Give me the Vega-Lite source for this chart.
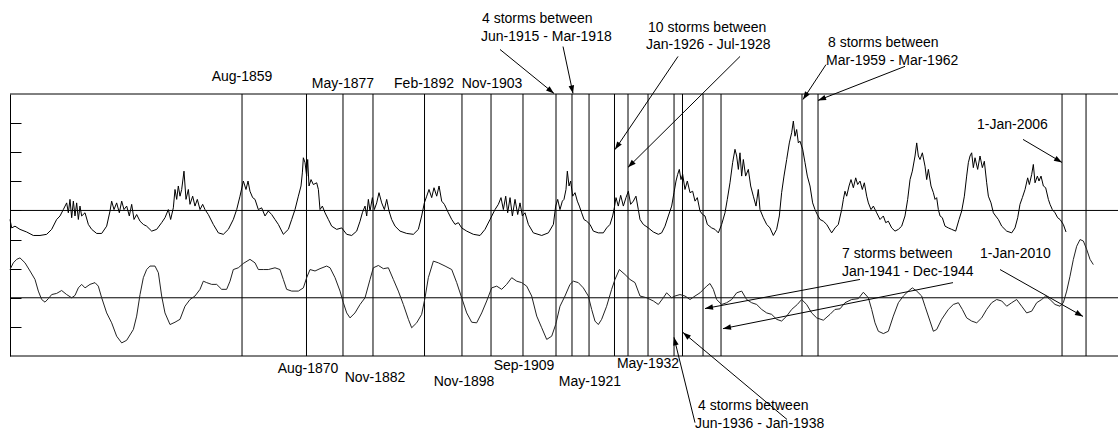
{
  "$schema": "https://vega.github.io/schema/vega-lite/v6.json",
  "width": 1108,
  "height": 262,
  "autosize": {"type": "none"},
  "padding": {"left": 10, "top": 94, "right": 0, "bottom": 74},
  "background": "white",
  "view": {"stroke": null},
  "config": {"font": "Liberation Sans"},
  "datasets": {
    "sun": [
      {"t":1818.2,"v":-0.31},{"t":1818.5,"v":-0.6},{"t":1819.09,"v":-0.54},{"t":1819.98,"v":-0.65},{"t":1821.17,"v":-0.74},{"t":1822.36,"v":-0.86},{"t":1823.55,"v":-0.86},{"t":1824.74,"v":-0.82},{"t":1825.63,"v":-0.65},{"t":1826.52,"v":-0.31},{"t":1827.12,"v":-0.19},{"t":1827.71,"v":0.03},{"t":1828.31,"v":0.26},{"t":1828.6,"v":-0.08},{"t":1828.9,"v":0.38},{"t":1829.2,"v":-0.25},{"t":1829.5,"v":0.32},{"t":1829.79,"v":-0.19},{"t":1830.09,"v":0.26},{"t":1830.39,"v":-0.31},{"t":1830.68,"v":0.15},{"t":1830.98,"v":-0.19},{"t":1831.58,"v":-0.08},{"t":1832.17,"v":-0.48},{"t":1832.77,"v":-0.65},{"t":1833.66,"v":-0.79},{"t":1834.55,"v":-0.79},{"t":1835.44,"v":-0.54},{"t":1836.04,"v":-0.02},{"t":1836.33,"v":0.32},{"t":1836.75,"v":0.03},{"t":1837.22,"v":0.26},{"t":1837.7,"v":-0.08},{"t":1838.12,"v":0.32},{"t":1838.53,"v":0.03},{"t":1839.01,"v":0.15},{"t":1839.48,"v":-0.19},{"t":1839.9,"v":0.21},{"t":1840.32,"v":-0.31},{"t":1840.79,"v":-0.14},{"t":1841.39,"v":-0.37},{"t":1841.98,"v":-0.48},{"t":1842.57,"v":-0.54},{"t":1843.47,"v":-0.71},{"t":1844.36,"v":-0.65},{"t":1845.25,"v":-0.42},{"t":1845.84,"v":-0.25},{"t":1846.44,"v":0.03},{"t":1846.85,"v":-0.31},{"t":1847.33,"v":0.09},{"t":1847.63,"v":0.72},{"t":1847.93,"v":0.38},{"t":1848.22,"v":0.84},{"t":1848.52,"v":0.49},{"t":1848.82,"v":0.72},{"t":1849.23,"v":1.35},{"t":1849.59,"v":0.38},{"t":1850.01,"v":0.72},{"t":1850.3,"v":0.21},{"t":1850.78,"v":0.49},{"t":1851.19,"v":0.15},{"t":1851.61,"v":0.38},{"t":1852.09,"v":0.03},{"t":1852.56,"v":0.21},{"t":1852.98,"v":0.03},{"t":1853.57,"v":-0.14},{"t":1854.46,"v":-0.48},{"t":1855.36,"v":-0.77},{"t":1856.25,"v":-0.82},{"t":1857.14,"v":-0.65},{"t":1858.03,"v":-0.31},{"t":1858.63,"v":0.03},{"t":1859.22,"v":0.49},{"t":1859.82,"v":1.01},{"t":1860.29,"v":0.72},{"t":1860.65,"v":1.01},{"t":1861.0,"v":0.66},{"t":1861.48,"v":0.44},{"t":1861.9,"v":0.38},{"t":1862.49,"v":0.03},{"t":1863.08,"v":0.09},{"t":1863.68,"v":-0.19},{"t":1864.27,"v":-0.02},{"t":1864.87,"v":-0.14},{"t":1865.46,"v":-0.31},{"t":1866.06,"v":-0.48},{"t":1866.95,"v":-0.82},
      {"t":1867.84,"v":-0.65},{"t":1868.44,"v":-0.31},{"t":1869.03,"v":0.03},{"t":1869.63,"v":0.49},{"t":1870.1,"v":0.84},{"t":1870.34,"v":1.29},{"t":1870.52,"v":1.81},{"t":1870.82,"v":1.64},{"t":1871.11,"v":1.18},{"t":1871.29,"v":1.75},{"t":1871.53,"v":0.84},{"t":1871.89,"v":1.06},{"t":1872.3,"v":0.89},{"t":1872.9,"v":0.95},{"t":1873.2,"v":0.72},{"t":1873.49,"v":0.03},{"t":1873.91,"v":0.15},{"t":1874.38,"v":-0.08},{"t":1874.98,"v":-0.31},{"t":1875.57,"v":-0.54},{"t":1876.46,"v":-0.65},{"t":1877.36,"v":-0.6},{"t":1878.25,"v":-0.82},{"t":1879.14,"v":-0.86},{"t":1880.03,"v":-0.71},{"t":1880.63,"v":-0.37},{"t":1881.04,"v":-0.08},{"t":1881.52,"v":0.15},{"t":1881.82,"v":-0.19},{"t":1882.11,"v":0.38},{"t":1882.41,"v":-0.02},{"t":1882.83,"v":0.44},{"t":1883.18,"v":0.03},{"t":1883.6,"v":0.26},{"t":1884.01,"v":0.61},{"t":1884.49,"v":0.26},{"t":1884.97,"v":0.03},{"t":1885.38,"v":0.38},{"t":1885.8,"v":-0.02},{"t":1886.27,"v":-0.31},{"t":1886.87,"v":-0.54},{"t":1887.76,"v":-0.71},{"t":1888.95,"v":-0.79},{"t":1890.14,"v":-0.82},{"t":1891.03,"v":-0.65},{"t":1891.62,"v":-0.19},{"t":1892.1,"v":0.26},{"t":1892.52,"v":0.49},{"t":1892.93,"v":0.72},{"t":1893.41,"v":0.44},{"t":1893.82,"v":0.78},{"t":1894.3,"v":0.49},{"t":1894.72,"v":0.84},{"t":1895.19,"v":0.32},{"t":1895.67,"v":0.21},{"t":1896.38,"v":-0.08},{"t":1896.98,"v":-0.31},{"t":1897.57,"v":-0.48},{"t":1898.16,"v":-0.42},{"t":1898.76,"v":-0.6},{"t":1899.65,"v":-0.71},{"t":1900.84,"v":-0.82},{"t":1902.03,"v":-0.86},{"t":1902.92,"v":-0.65},{"t":1903.81,"v":-0.31},{"t":1904.7,"v":0.03},{"t":1905.3,"v":0.21},{"t":1905.77,"v":0.44},{"t":1906.19,"v":0.03},{"t":1906.61,"v":0.49},{"t":1906.96,"v":-0.08},{"t":1907.38,"v":0.44},{"t":1907.8,"v":-0.19},{"t":1908.27,"v":0.38},{"t":1908.75,"v":-0.14},{"t":1909.16,"v":0.26},{"t":1909.58,"v":-0.19},{"t":1910.05,"v":-0.08},{"t":1910.65,"v":-0.48},{"t":1911.54,"v":-0.77},{"t":1913.03,"v":-0.86},{"t":1914.22,"v":-0.77},{"t":1915.11,"v":-0.48},{"t":1915.52,"v":0.15},{"t":1915.88,"v":0.38},{"t":1916.29,"v":0.03},{"t":1916.71,"v":0.32},
      {"t":1917.0,"v":0.38},{"t":1917.36,"v":0.72},{"t":1917.6,"v":1.35},{"t":1917.9,"v":0.84},{"t":1918.19,"v":1.01},{"t":1918.55,"v":0.49},{"t":1918.97,"v":0.61},{"t":1919.38,"v":0.32},{"t":1919.74,"v":0.15},{"t":1920.15,"v":-0.08},{"t":1920.57,"v":-0.31},{"t":1921.05,"v":-0.37},{"t":1921.64,"v":-0.48},{"t":1922.24,"v":-0.71},{"t":1923.13,"v":-0.77},{"t":1924.02,"v":-0.77},{"t":1924.61,"v":-0.6},{"t":1925.21,"v":-0.48},{"t":1925.68,"v":-0.19},{"t":1925.98,"v":0.09},{"t":1926.28,"v":0.44},{"t":1926.69,"v":0.15},{"t":1927.11,"v":0.52},{"t":1927.59,"v":0.15},{"t":1928.06,"v":0.44},{"t":1928.48,"v":0.66},{"t":1928.89,"v":0.21},{"t":1929.37,"v":0.32},{"t":1929.84,"v":0.49},{"t":1930.26,"v":0.03},{"t":1930.56,"v":-0.31},{"t":1931.15,"v":-0.48},{"t":1932.04,"v":-0.6},{"t":1932.94,"v":-0.74},{"t":1933.83,"v":-0.82},{"t":1934.42,"v":-0.77},{"t":1935.02,"v":-0.54},{"t":1935.61,"v":-0.19},{"t":1936.21,"v":0.15},{"t":1936.62,"v":0.61},{"t":1936.98,"v":1.01},{"t":1937.28,"v":1.24},{"t":1937.57,"v":1.41},{"t":1937.87,"v":1.06},{"t":1938.17,"v":1.24},{"t":1938.58,"v":0.72},{"t":1939.0,"v":1.01},{"t":1939.48,"v":0.61},{"t":1939.95,"v":0.66},{"t":1940.37,"v":0.32},{"t":1940.78,"v":0.44},{"t":1941.26,"v":-0.02},{"t":1941.73,"v":-0.14},{"t":1942.15,"v":-0.19},{"t":1942.57,"v":-0.48},{"t":1943.34,"v":-0.6},{"t":1943.93,"v":-0.65},{"t":1944.53,"v":-0.77},{"t":1945.12,"v":-0.48},{"t":1945.72,"v":-0.08},{"t":1946.13,"v":0.38},{"t":1946.61,"v":0.95},{"t":1947.08,"v":1.64},{"t":1947.5,"v":2.1},{"t":1947.8,"v":1.87},{"t":1948.1,"v":1.41},{"t":1948.39,"v":1.98},{"t":1948.69,"v":1.18},{"t":1948.99,"v":1.75},{"t":1949.4,"v":1.18},{"t":1949.88,"v":1.41},{"t":1950.3,"v":0.84},{"t":1950.77,"v":0.49},{"t":1951.25,"v":0.15},{"t":1951.66,"v":0.72},{"t":1951.96,"v":0.03},{"t":1952.56,"v":-0.25},{"t":1953.15,"v":-0.48},{"t":1953.74,"v":-0.6},{"t":1954.34,"v":-0.86},{"t":1954.93,"v":-0.65},{"t":1955.41,"v":-0.19},{"t":1955.82,"v":0.61},{"t":1956.24,"v":1.18},{"t":1956.72,"v":1.75},{"t":1957.19,"v":2.32},{"t":1957.61,"v":2.67},{"t":1957.91,"v":3.07},{"t":1958.2,"v":2.55},{"t":1958.5,"v":2.78},{"t":1958.8,"v":2.32},{"t":1959.09,"v":2.38},{"t":1959.57,"v":2.1},{"t":1959.99,"v":1.64},{"t":1960.4,"v":1.18},{"t":1960.88,"v":0.84},{"t":1961.35,"v":0.26},{"t":1961.77,"v":0.03},{"t":1962.18,"v":-0.14},{"t":1962.66,"v":-0.31},{"t":1963.26,"v":-0.37},{"t":1963.85,"v":-0.48},{"t":1964.74,"v":-0.77},{"t":1965.34,"v":-0.6},
      {"t":1965.93,"v":-0.48},{"t":1966.53,"v":0.03},{"t":1966.83,"v":0.38},{"t":1967.12,"v":0.66},{"t":1967.42,"v":0.49},{"t":1967.84,"v":0.84},{"t":1968.19,"v":1.06},{"t":1968.61,"v":0.78},{"t":1969.03,"v":1.12},{"t":1969.38,"v":0.89},{"t":1969.8,"v":1.01},{"t":1970.21,"v":0.72},{"t":1970.57,"v":0.95},{"t":1970.99,"v":0.49},{"t":1971.29,"v":0.26},{"t":1971.76,"v":0.03},{"t":1972.18,"v":0.15},{"t":1972.77,"v":-0.08},{"t":1973.37,"v":-0.31},{"t":1973.96,"v":-0.19},{"t":1974.38,"v":-0.42},{"t":1974.85,"v":-0.37},{"t":1975.45,"v":-0.6},{"t":1976.04,"v":-0.71},{"t":1976.64,"v":-0.65},{"t":1977.23,"v":-0.54},{"t":1977.82,"v":-0.19},{"t":1978.3,"v":0.38},{"t":1978.72,"v":1.06},{"t":1979.13,"v":1.35},{"t":1979.61,"v":1.87},{"t":1979.91,"v":2.32},{"t":1980.2,"v":1.87},{"t":1980.5,"v":1.75},{"t":1980.92,"v":1.98},{"t":1981.39,"v":1.52},{"t":1981.69,"v":1.06},{"t":1981.99,"v":1.41},{"t":1982.46,"v":0.84},{"t":1982.88,"v":0.61},{"t":1983.18,"v":0.38},{"t":1983.47,"v":0.44},{"t":1983.77,"v":0.03},{"t":1984.07,"v":-0.19},{"t":1984.48,"v":-0.25},{"t":1984.96,"v":-0.54},{"t":1985.55,"v":-0.6},{"t":1986.15,"v":-0.65},{"t":1986.86,"v":-0.71},{"t":1987.46,"v":-0.31},{"t":1987.93,"v":-0.02},{"t":1988.41,"v":0.49},{"t":1988.82,"v":1.18},{"t":1989.12,"v":1.64},{"t":1989.42,"v":1.87},{"t":1989.71,"v":1.98},{"t":1990.01,"v":1.47},{"t":1990.31,"v":1.81},{"t":1990.78,"v":1.41},{"t":1991.2,"v":1.87},{"t":1991.62,"v":1.47},{"t":1991.97,"v":1.69},{"t":1992.39,"v":0.95},{"t":1992.69,"v":0.49},{"t":1993.16,"v":0.26},{"t":1993.58,"v":-0.08},{"t":1993.99,"v":-0.19},{"t":1994.47,"v":-0.31},{"t":1995.07,"v":-0.54},{"t":1995.96,"v":-0.71},{"t":1996.85,"v":-0.77},{"t":1997.44,"v":-0.6},{"t":1997.92,"v":-0.25},{"t":1998.33,"v":0.21},{"t":1998.75,"v":0.44},{"t":1999.23,"v":0.72},{"t":1999.7,"v":1.12},{"t":2000.0,"v":0.89},{"t":2000.42,"v":1.24},{"t":2000.71,"v":1.58},{"t":2001.01,"v":0.95},{"t":2001.43,"v":1.18},{"t":2001.72,"v":1.01},{"t":2002.08,"v":1.18},{"t":2002.5,"v":0.84},{"t":2002.91,"v":0.78},{"t":2003.39,"v":0.38},{"t":2003.69,"v":0.21},{"t":2004.1,"v":0.03},{"t":2004.58,"v":-0.08},{"t":2005.05,"v":-0.25},{"t":2005.47,"v":-0.31},{"t":2006.06,"v":-0.48},{"t":2006.54,"v":-0.74}
    ],
    "osc": [
      {"t":1818.2,"v":-2.03},{"t":1818.79,"v":-1.8},{"t":1819.39,"v":-1.68},{"t":1819.98,"v":-1.63},{"t":1820.88,"v":-1.8},{"t":1821.77,"v":-2.08},{"t":1822.66,"v":-2.37},{"t":1823.25,"v":-2.77},{"t":1823.85,"v":-3.06},{"t":1824.44,"v":-3.15},{"t":1825.04,"v":-3.03},{"t":1825.63,"v":-2.89},{"t":1826.52,"v":-2.85},{"t":1827.41,"v":-2.75},{"t":1828.31,"v":-2.89},{"t":1829.2,"v":-3.0},{"t":1829.79,"v":-2.92},{"t":1830.39,"v":-2.66},{"t":1830.98,"v":-2.54},{"t":1831.58,"v":-2.66},{"t":1832.47,"v":-2.54},{"t":1833.36,"v":-2.48},{"t":1833.95,"v":-2.6},{"t":1834.55,"v":-3.0},{"t":1835.44,"v":-3.52},{"t":1836.33,"v":-3.86},{"t":1837.22,"v":-4.32},{"t":1838.12,"v":-4.55},{"t":1839.01,"v":-4.46},{"t":1840.2,"v":-4.09},{"t":1840.79,"v":-3.63},{"t":1841.39,"v":-2.89},{"t":1841.98,"v":-2.31},{"t":1842.57,"v":-2.03},{"t":1843.17,"v":-1.91},{"t":1844.06,"v":-1.91},{"t":1844.66,"v":-2.14},{"t":1845.25,"v":-2.94},{"t":1845.84,"v":-3.52},{"t":1846.74,"v":-3.92},{"t":1847.63,"v":-3.84},{"t":1848.52,"v":-3.74},{"t":1849.41,"v":-3.29},{"t":1850.3,"v":-3.06},{"t":1851.19,"v":-2.94},{"t":1852.09,"v":-2.71},{"t":1852.68,"v":-2.43},{"t":1853.28,"v":-2.48},{"t":1854.17,"v":-2.54},{"t":1855.06,"v":-2.54},{"t":1855.95,"v":-2.71},{"t":1856.84,"v":-2.71},{"t":1857.44,"v":-2.43},{"t":1858.03,"v":-2.03},{"t":1858.92,"v":-1.97},{"t":1859.82,"v":-1.82},{"t":1861.0,"v":-1.68},{"t":1861.9,"v":-1.8},{"t":1862.49,"v":-2.03},{"t":1863.38,"v":-2.03},{"t":1864.27,"v":-2.03},{"t":1865.46,"v":-1.97},{"t":1866.35,"v":-2.03},{"t":1866.95,"v":-2.37},{"t":1867.54,"v":-2.71},
      {"t":1868.44,"v":-2.77},{"t":1869.63,"v":-2.77},{"t":1870.52,"v":-2.66},{"t":1871.11,"v":-2.31},{"t":1871.71,"v":-2.03},{"t":1872.6,"v":-2.08},{"t":1873.49,"v":-2.0},{"t":1874.68,"v":-1.91},{"t":1875.28,"v":-1.97},{"t":1876.17,"v":-2.31},{"t":1877.06,"v":-2.77},{"t":1877.65,"v":-3.17},{"t":1878.25,"v":-3.52},{"t":1878.84,"v":-3.69},{"t":1879.73,"v":-3.52},{"t":1880.63,"v":-3.23},{"t":1881.52,"v":-3.0},{"t":1882.41,"v":-2.37},{"t":1883.0,"v":-1.97},{"t":1883.9,"v":-1.89},{"t":1884.79,"v":-2.0},{"t":1885.68,"v":-1.97},{"t":1886.57,"v":-2.37},{"t":1887.46,"v":-2.77},{"t":1888.35,"v":-3.23},{"t":1889.25,"v":-3.74},{"t":1889.84,"v":-4.03},{"t":1890.73,"v":-3.86},{"t":1891.62,"v":-3.57},{"t":1892.22,"v":-3.0},{"t":1892.81,"v":-2.31},{"t":1893.71,"v":-1.74},{"t":1894.6,"v":-1.8},{"t":1895.79,"v":-1.91},{"t":1896.98,"v":-2.03},{"t":1897.87,"v":-2.48},{"t":1898.76,"v":-3.0},{"t":1899.65,"v":-3.52},{"t":1900.54,"v":-3.84},{"t":1901.43,"v":-3.86},{"t":1902.33,"v":-3.52},{"t":1903.22,"v":-3.11},{"t":1904.11,"v":-2.66},{"t":1905.0,"v":-2.6},{"t":1905.89,"v":-2.71},{"t":1906.78,"v":-2.54},{"t":1907.68,"v":-2.31},{"t":1908.57,"v":-2.43},{"t":1909.46,"v":-2.48},{"t":1910.35,"v":-2.6},{"t":1911.24,"v":-2.94},{"t":1912.14,"v":-3.63},{"t":1913.03,"v":-4.03},{"t":1913.92,"v":-4.43},{"t":1914.81,"v":-4.32},{"t":1915.52,"v":-3.92},{"t":1916.29,"v":-3.29},
      {"t":1917.18,"v":-2.94},{"t":1918.07,"v":-2.54},{"t":1918.67,"v":-2.43},{"t":1919.56,"v":-2.48},{"t":1920.45,"v":-2.66},{"t":1921.34,"v":-2.94},{"t":1921.94,"v":-3.4},{"t":1922.53,"v":-3.8},{"t":1923.13,"v":-3.92},{"t":1923.72,"v":-3.74},{"t":1924.61,"v":-3.29},{"t":1925.5,"v":-2.71},{"t":1926.1,"v":-2.37},{"t":1926.87,"v":-2.03},{"t":1927.88,"v":-2.2},{"t":1928.77,"v":-2.37},{"t":1929.67,"v":-2.48},{"t":1930.56,"v":-2.94},{"t":1931.75,"v":-3.0},{"t":1932.94,"v":-3.11},{"t":1933.83,"v":-3.23},{"t":1934.72,"v":-3.0},{"t":1935.31,"v":-2.83},{"t":1936.21,"v":-3.0},{"t":1936.8,"v":-2.94},{"t":1937.69,"v":-2.89},{"t":1938.58,"v":-2.94},{"t":1939.48,"v":-3.06},{"t":1940.37,"v":-2.94},{"t":1941.26,"v":-2.83},{"t":1942.45,"v":-2.6},{"t":1943.04,"v":-2.51},{"t":1943.64,"v":-2.71},{"t":1944.23,"v":-3.06},{"t":1945.12,"v":-3.23},{"t":1946.02,"v":-3.17},{"t":1946.91,"v":-3.06},{"t":1947.8,"v":-2.83},{"t":1948.69,"v":-2.77},{"t":1949.58,"v":-3.06},{"t":1950.47,"v":-3.17},{"t":1951.37,"v":-3.23},{"t":1952.26,"v":-3.4},{"t":1953.15,"v":-3.52},{"t":1954.04,"v":-3.57},{"t":1954.93,"v":-3.74},{"t":1955.82,"v":-3.8},{"t":1956.72,"v":-3.63},{"t":1957.61,"v":-3.4},{"t":1958.62,"v":-3.23},{"t":1959.39,"v":-3.06},{"t":1960.28,"v":-3.23},{"t":1961.17,"v":-3.52},{"t":1962.07,"v":-3.69},{"t":1963.26,"v":-3.77},{"t":1964.45,"v":-3.57},{"t":1965.33,"v":-3.4},
      {"t":1966.23,"v":-3.38},{"t":1967.12,"v":-3.17},{"t":1968.31,"v":-3.06},{"t":1969.5,"v":-3.03},{"t":1970.39,"v":-2.81},{"t":1971.29,"v":-3.0},{"t":1971.88,"v":-3.4},{"t":1972.47,"v":-3.86},{"t":1973.07,"v":-4.15},{"t":1973.96,"v":-4.23},{"t":1974.85,"v":-4.15},{"t":1975.74,"v":-3.63},{"t":1976.64,"v":-3.17},{"t":1977.53,"v":-2.94},{"t":1978.42,"v":-2.77},{"t":1979.13,"v":-2.66},{"t":1979.91,"v":-2.77},{"t":1980.8,"v":-2.94},{"t":1981.39,"v":-3.29},{"t":1982.28,"v":-3.8},{"t":1982.88,"v":-4.15},{"t":1983.47,"v":-4.09},{"t":1984.36,"v":-3.74},{"t":1985.55,"v":-3.4},{"t":1986.44,"v":-3.23},{"t":1987.34,"v":-3.17},{"t":1988.05,"v":-3.4},{"t":1988.82,"v":-3.69},{"t":1989.71,"v":-3.8},{"t":1990.61,"v":-3.86},{"t":1991.5,"v":-3.69},{"t":1992.39,"v":-3.4},{"t":1993.28,"v":-3.17},{"t":1994.17,"v":-3.06},{"t":1995.07,"v":-3.11},{"t":1995.96,"v":-3.29},{"t":1996.85,"v":-3.17},{"t":1997.74,"v":-3.06},{"t":1998.63,"v":-3.29},{"t":1999.52,"v":-3.52},{"t":2000.42,"v":-3.46},{"t":2001.31,"v":-3.17},{"t":2002.2,"v":-3.06},{"t":2002.91,"v":-2.94},{"t":2003.69,"v":-3.06},{"t":2004.58,"v":-3.23},{"t":2005.47,"v":-3.29},{"t":2006.06,"v":-3.17},{"t":2006.66,"v":-2.77},{"t":2007.25,"v":-2.26},{"t":2007.85,"v":-1.68},{"t":2008.44,"v":-1.23},{"t":2009.04,"v":-1.0},{"t":2009.63,"v":-1.05},{"t":2010.23,"v":-1.34},{"t":2010.82,"v":-1.68},{"t":2011.41,"v":-1.86}
    ],
    "storms": [
      {"d":"Aug-1859","t":1859.58},{"d":"Aug-1870","t":1871.08},{"d":"May-1877","t":1877.59},{"d":"Nov-1882","t":1882.94},{"d":"Feb-1892","t":1892.13},{"d":"Nov-1898","t":1898.81},{"d":"Nov-1903","t":1903.99},{"d":"Sep-1909","t":1909.69},{"d":"Jun-1915","t":1915.58},{"d":"Mar-1918","t":1918.43},{"d":"May-1921","t":1921.47},{"d":"Jan-1926","t":1926.01},{"d":"Jul-1928","t":1928.42},{"d":"May-1932","t":1931.99},{"d":"Jun-1936","t":1936.63},{"d":"Jan-1938","t":1938.14},{"d":"Jan-1941","t":1941.8},{"d":"Dec-1944","t":1945.01},{"d":"Mar-1959","t":1959.45},{"d":"Mar-1962","t":1962.31},{"d":"1-Jan-2006","t":2005.83},{"d":"1-Jan-2010","t":2010.11}
    ],
    "hlines": [{"v":4},{"v":0},{"v":-3},{"v":-5}],
    "dates": [
      {"label":"Aug-1859","t":1859.58,"v":4.6},{"label":"May-1877","t":1877.59,"v":4.36},{"label":"Feb-1892","t":1892.04,"v":4.36},{"label":"Nov-1903","t":1904.16,"v":4.36},
      {"label":"Aug-1870","t":1871.35,"v":-5.43},{"label":"Nov-1882","t":1883.3,"v":-5.74},{"label":"Nov-1898","t":1899.17,"v":-5.91},{"label":"Sep-1909","t":1909.87,"v":-5.33},{"label":"May-1921","t":1921.64,"v":-5.88},{"label":"May-1932","t":1931.99,"v":-5.26}
    ],
    "notes": [
      {"label":"4 storms between","t":1902.38,"v":6.56},{"label":"Jun-1915 - Mar-1918","t":1902.2,"v":5.96},
      {"label":"10 storms between","t":1931.99,"v":6.28},{"label":"Jan-1926 - Jul-1928","t":1931.63,"v":5.67},
      {"label":"8 storms between","t":1964.09,"v":5.75},{"label":"Mar-1959 - Mar-1962","t":1963.73,"v":5.13},
      {"label":"1-Jan-2006","t":1990.66,"v":2.95},
      {"label":"7 storms between","t":1966.59,"v":-1.51},{"label":"Jan-1941 - Dec-1944","t":1966.59,"v":-2.13},
      {"label":"1-Jan-2010","t":1991.2,"v":-1.51},
      {"label":"4 storms between","t":1940.9,"v":-6.72},{"label":"Jun-1936 - Jan-1938","t":1940.37,"v":-7.32}
    ],
    "arrows": [
      {"t":1905.59,"v":5.53,"t2":1915.22,"v2":4.02},
      {"t":1916.83,"v":5.63,"t2":1918.61,"v2":4.02},
      {"t":1937.34,"v":5.29,"t2":1926.1,"v2":2.09},
      {"t":1948.4,"v":5.29,"t2":1928.42,"v2":1.48},
      {"t":1963.73,"v":5.01,"t2":1959.63,"v2":3.81},
      {"t":1977.82,"v":4.95,"t2":1962.31,"v2":3.78},
      {"t":1998.87,"v":2.44,"t2":2005.82,"v2":1.65},
      {"t":1969.8,"v":-2.37,"t2":1942.15,"v2":-3.37},
      {"t":1986.38,"v":-2.48,"t2":1945.36,"v2":-4.06},
      {"t":1994.77,"v":-2.03,"t2":2009.57,"v2":-3.64},
      {"t":1940.37,"v":-7.29,"t2":1936.62,"v2":-4.36},
      {"t":1956.78,"v":-7.18,"t2":1938.23,"v2":-4.19}
    ]
  },
  "layer": [
    {
      "data": {"name": "hlines"},
      "mark": {"type": "rule", "color": "#000", "strokeWidth": 1},
      "encoding": {
        "y": {"field": "v", "type": "quantitative", "scale": {"domain": [-5, 4], "nice": false, "zero": false},
              "axis": {"values": [-4, -3, -2, -1, 0, 1, 2, 3], "tickCount": 20, "tickSize": -11, "labels": false, "labelOverlap": false, "labelFlush": false, "grid": false, "title": null, "domain": true, "domainColor": "#000", "tickColor": "#000", "domainWidth": 1, "tickWidth": 1}}
      }
    },
    {
      "data": {"name": "storms"},
      "mark": {"type": "rule", "color": "#000", "strokeWidth": 1},
      "encoding": {
        "x": {"field": "t", "type": "quantitative", "scale": {"domain": [1818.2, 2015.81], "nice": false, "zero": false}, "axis": null}
      }
    },
    {
      "data": {"name": "sun"},
      "mark": {"type": "line", "color": "#000", "strokeWidth": 1},
      "encoding": {
        "x": {"field": "t", "type": "quantitative", "scale": {"domain": [1818.2, 2015.81], "nice": false, "zero": false}, "axis": null},
        "y": {"field": "v", "type": "quantitative", "scale": {"domain": [-5, 4], "nice": false, "zero": false}}
      }
    },
    {
      "data": {"name": "osc"},
      "mark": {"type": "line", "color": "#222", "strokeWidth": 1},
      "encoding": {
        "x": {"field": "t", "type": "quantitative", "scale": {"domain": [1818.2, 2015.81], "nice": false, "zero": false}, "axis": null},
        "y": {"field": "v", "type": "quantitative", "scale": {"domain": [-5, 4], "nice": false, "zero": false}}
      }
    },
    {
      "data": {"name": "dates"},
      "mark": {"type": "text", "font": "Liberation Sans", "fontSize": 14, "color": "#000", "align": "center", "baseline": "middle"},
      "encoding": {
        "x": {"field": "t", "type": "quantitative", "scale": {"domain": [1818.2, 2015.81], "nice": false, "zero": false}, "axis": null},
        "y": {"field": "v", "type": "quantitative", "scale": {"domain": [-5, 4], "nice": false, "zero": false}},
        "text": {"field": "label", "type": "nominal"}
      }
    },
    {
      "data": {"name": "notes"},
      "mark": {"type": "text", "font": "Liberation Sans", "fontSize": 14, "color": "#000", "align": "left", "baseline": "middle"},
      "encoding": {
        "x": {"field": "t", "type": "quantitative", "scale": {"domain": [1818.2, 2015.81], "nice": false, "zero": false}, "axis": null},
        "y": {"field": "v", "type": "quantitative", "scale": {"domain": [-5, 4], "nice": false, "zero": false}},
        "text": {"field": "label", "type": "nominal"}
      }
    },
    {
      "data": {"name": "arrows"},
      "mark": {"type": "rule", "color": "#000", "strokeWidth": 1},
      "encoding": {
        "x": {"field": "t", "type": "quantitative", "scale": {"domain": [1818.2, 2015.81], "nice": false, "zero": false}, "axis": null},
        "y": {"field": "v", "type": "quantitative", "scale": {"domain": [-5, 4], "nice": false, "zero": false}},
        "x2": {"field": "t2"},
        "y2": {"field": "v2"}
      }
    },
    {
      "data": {"name": "arrows"},
      "transform": [{"calculate": "atan2((datum.t2 - datum.t) * 5.607, (datum.v2 - datum.v) * 29.11) * 180 / PI", "as": "ang"}],
      "mark": {"type": "point", "shape": "M0,0L-0.35,1L0.35,1Z", "filled": true, "color": "#000", "opacity": 1, "size": 256},
      "encoding": {
        "x": {"field": "t2", "type": "quantitative", "scale": {"domain": [1818.2, 2015.81], "nice": false, "zero": false}, "axis": null},
        "y": {"field": "v2", "type": "quantitative", "scale": {"domain": [-5, 4], "nice": false, "zero": false}},
        "angle": {"field": "ang", "type": "quantitative", "scale": null}
      }
    }
  ]
}
